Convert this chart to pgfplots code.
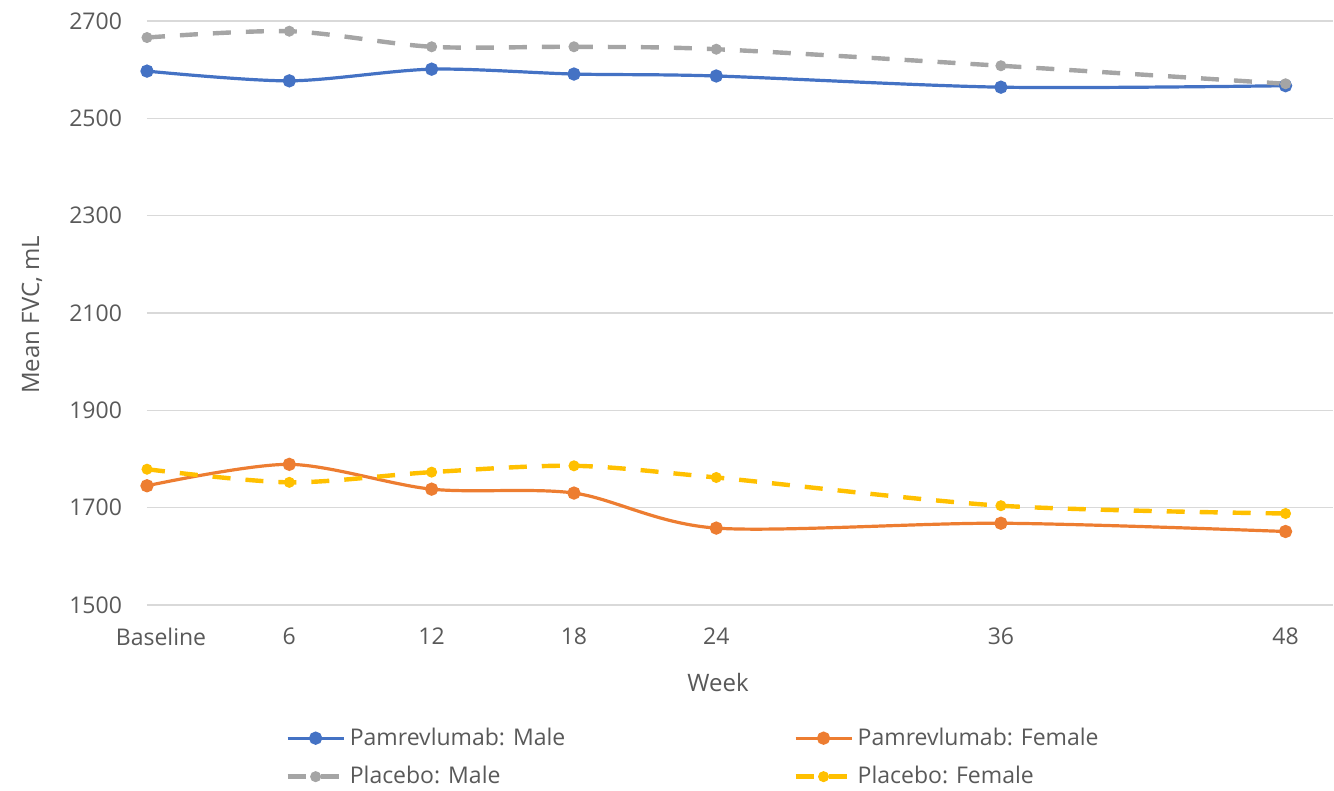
\documentclass[border=0pt]{standalone}
\usepackage{fontspec}
\setmainfont{Open Sans}
\usepackage{pgfplots}
\pgfplotsset{compat=1.18}
\definecolor{cBlue}{HTML}{4472C4}
\definecolor{cOrange}{HTML}{ED7D31}
\definecolor{cGray}{HTML}{A5A5A5}
\definecolor{cYellow}{HTML}{FFC000}
\definecolor{cText}{HTML}{595959}
\definecolor{cGrid}{HTML}{D9D9D9}
\begin{document}
\begin{tikzpicture}
\useasboundingbox (0,0) rectangle (667pt,395.5pt);
\begin{axis}[
  at={(73.5pt,93pt)}, anchor=south west,
  scale only axis,
  width=593pt, height=292pt,
  xmin=0, xmax=50, ymin=1500, ymax=2700,
  xtick={0,6,12,18,24,36,48},
  xticklabels={\hspace*{14pt}Baseline,6,12,18,24,36,48},
  ytick={1500,1700,1900,2100,2300,2500,2700},
  axis line style={draw=none},
  major tick length=0pt,
  ymajorgrids, grid style={cGrid, line width=0.8pt},
  /pgf/number format/assume math mode=true,
  /pgf/number format/1000 sep={},
  tick label style={font=\fontsize{11.5pt}{13pt}\selectfont, text=cText},
  yticklabel style={xshift=-9pt},
  xticklabel style={yshift=-8pt},
  xlabel={Week}, ylabel={Mean FVC, mL},
  label style={font=\fontsize{12pt}{14pt}\selectfont, text=cText},
  xlabel style={at={(axis description cs:0.4815,0)}, anchor=center, yshift=-39pt},
  ylabel style={at={(axis description cs:-0.097,0.497)}, anchor=center},
  legend columns=2,
  legend cell align=left,
  legend style={at={(axis description cs:0.1164,-0.261)}, anchor=west, draw=none, fill=none,
    inner sep=0pt, font=\fontsize{11.5pt}{13pt}\selectfont, text=cText,
    /tikz/every even column/.append style={column sep=112pt},
    row sep=5pt},
  legend image code/.code={\draw[mark repeat=2,mark phase=2,#1] plot coordinates {(0pt,0pt)(14pt,0pt)(28pt,0pt)};},
  every axis plot/.append style={smooth, tension=0.5, mark=*, mark size=2.5pt, line width=1.6pt},
]
\addplot[cBlue, mark options={fill=cBlue, solid}] coordinates {(0,2597)(6,2577)(12,2601)(18,2591)(24,2587)(36,2564)(48,2567)};
\addlegendentry{Pamrevlumab: Male}
\addplot[cOrange, mark options={fill=cOrange, solid}] coordinates {(0,1745)(6,1789)(12,1738)(18,1730)(24,1658)(36,1668)(48,1651)};
\addlegendentry{Pamrevlumab: Female}
\addplot[cGray, line width=2.2pt, dash pattern=on 9pt off 7.5pt, mark options={fill=cGray, solid, line width=0.5pt}] coordinates {(0,2666)(6,2679)(12,2647)(18,2647)(24,2642)(36,2608)(48,2571)};
\addlegendentry{Placebo: Male}
\addplot[cYellow, line width=2.2pt, dash pattern=on 9pt off 7.5pt, mark options={fill=cYellow, solid, line width=0.5pt}] coordinates {(0,1779)(6,1752)(12,1773)(18,1786)(24,1762)(36,1704)(48,1688)};
\addlegendentry{Placebo: Female}
\end{axis}
\end{tikzpicture}
\end{document}
